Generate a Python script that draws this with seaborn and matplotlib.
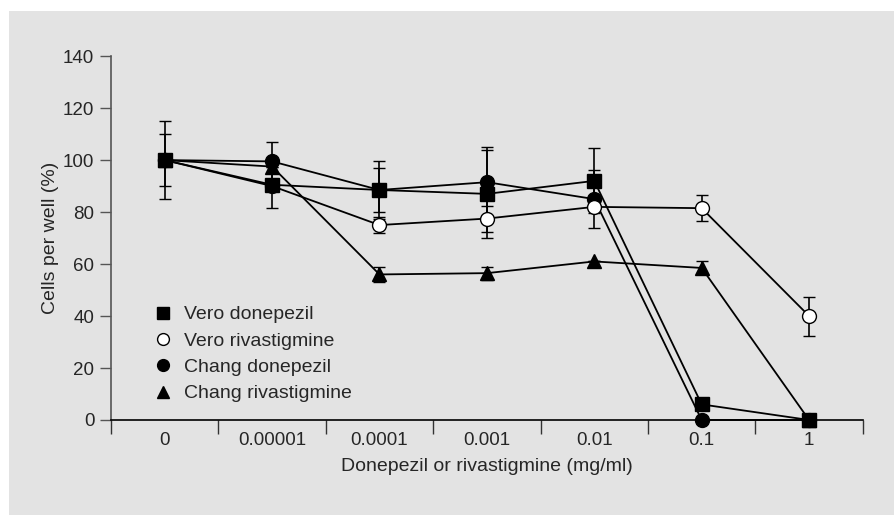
import numpy as np
import pandas as pd
import matplotlib
matplotlib.use("Agg")
import matplotlib.pyplot as plt
from matplotlib.lines import Line2D
from matplotlib.patches import Rectangle
import seaborn as sns

# concentrations (categorical positions on the x axis)
doses = ["0", "0.00001", "0.0001", "0.001", "0.01", "0.1", "1"]

# cells per well (%)
vero_donepezil = [100, 90.5, 88.5, 87, 92, 6, 0]
vero_rivastigmine = [100, 90, 75, 77.5, 82, 81.5, 40]
chang_donepezil = [100, 99.5, 88.5, 91.5, 85, 0, 0]
chang_rivastigmine = [100, 97.5, 56, 56.5, 61, 58.5, 0]

# error bars (+/-)
vero_donepezil_err = [15, 9, 11, 17, 12.5, 0, 0]
vero_rivastigmine_err = [0, 0, 3, 5, 0, 5, 7.5]
chang_donepezil_err = [10, 7.5, 8.5, 13.5, 11, 0, 0]
chang_rivastigmine_err = [0, 0, 3, 2.5, 0, 2.5, 0]

series = [
    ("Vero donepezil", vero_donepezil, vero_donepezil_err, "s", "black", 9.5),
    ("Vero rivastigmine", vero_rivastigmine, vero_rivastigmine_err, "o", "white", 10),
    ("Chang donepezil", chang_donepezil, chang_donepezil_err, "o", "black", 10),
    ("Chang rivastigmine", chang_rivastigmine, chang_rivastigmine_err, "^", "black", 10),
]

sns.set_style("ticks")
plt.rcParams["font.family"] = ["Liberation Sans", "DejaVu Sans"]

fig = plt.figure(figsize=(8.95, 5.15), dpi=100)
fig.patch.set_facecolor("white")
fig.patches.append(Rectangle((9 / 895, 0), 1, 1 - 11 / 515, transform=fig.transFigure,
                             facecolor="#e3e3e3", edgecolor="none", zorder=-10))
ax = fig.add_axes([0.124, 0.1845, 0.840, 0.7065])
ax.set_facecolor("none")

pos = np.arange(len(doses))
order = [3, 2, 1, 0]  # draw order so markers overlap like the original
for i in order:
    name, vals, err, mk, fc, ms = series[i]
    ax.errorbar(pos, vals, yerr=err, fmt="none", ecolor="black", elinewidth=1.2,
                capsize=4, capthick=1.0, zorder=2, clip_on=False)

for i in order:
    name, vals, err, mk, fc, ms = series[i]
    df = pd.DataFrame({"x": pos, "y": vals})
    sns.lineplot(data=df, x="x", y="y", ax=ax, color="black", linewidth=1.3,
                 marker=mk, markersize=ms, markerfacecolor=fc,
                 markeredgecolor="black", markeredgewidth=1.0, zorder=3,
                 clip_on=False)

ax.set_xlim(-0.5, 6.5)
ax.set_ylim(0, 140)
ax.set_yticks(range(0, 141, 20))
ax.set_xticks(pos)
ax.set_xticklabels(doses)
ax.set_xticks(np.arange(-0.5, 7, 1), minor=True)
ax.tick_params(axis="x", which="major", length=0, pad=9, labelsize=13.5)
ax.tick_params(axis="x", which="minor", length=10, width=1.0, color="#333333")
ax.tick_params(axis="y", length=8, width=1.0, color="#555555", labelsize=13.5, pad=4)

for side in ["top", "right"]:
    ax.spines[side].set_visible(False)
ax.spines["left"].set_color("#555555")
ax.spines["left"].set_linewidth(1.2)
ax.spines["bottom"].set_color("black")
ax.spines["bottom"].set_linewidth(1.2)

ax.set_xlabel("Donepezil or rivastigmine (mg/ml)", fontsize=14, labelpad=6)
ax.set_ylabel("Cells per well (%)", fontsize=14, labelpad=3)

handles = [Line2D([], [], linestyle="none", marker=s[3], markersize=8.5,
                  markerfacecolor=s[4], markeredgecolor="black", markeredgewidth=1.0)
           for s in series]
ax.legend(handles, [s[0] for s in series], loc="lower left",
          bbox_to_anchor=(0.03, 0.0), frameon=False, fontsize=14,
          handlelength=1.2, handletextpad=0.5, labelspacing=0.45)

fig.savefig("out.png", dpi=100)
